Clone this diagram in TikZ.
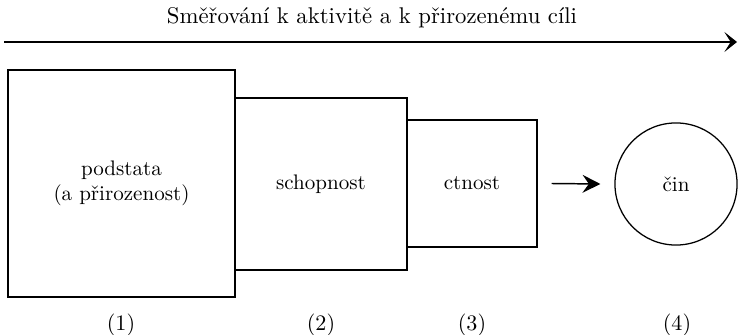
\documentclass[tikz,border=0pt]{standalone}
\usepackage{fontspec}
\usetikzlibrary{arrows.meta}

\begin{document}
\begin{tikzpicture}[
    x=0.475pt, y=-0.475pt,
    stupen/.style={rectangle, draw, line width=0.6pt, align=center, inner sep=0pt},
    cislo/.style={font=\fontsize{10.5}{12}\selectfont},
    sipka/.style={line width=0.7pt, -{Stealth[length=8.5pt, width=8.5pt, inset=3pt]}}
]

% Bounding box (reference proportions)
\useasboundingbox (0,0) rectangle (738,335);

% Direction arrow on top
\node[font=\fontsize{10.8}{13}\selectfont] (nadpis) at (372,18) {Směřování k aktivitě a k přirozenému cíli};
\coordinate (zacatek) at (4,42);
\coordinate (konec) at (737,42);
\draw[line width=0.85pt, -{Stealth[length=6pt, width=9.5pt, inset=3pt]}] (zacatek) -- (konec);

% Stages
\node[stupen, minimum width=107.8pt, minimum height=107.8pt] (podstata) at (121.5,183.5) {podstata\\(a přirozenost)};
\node[stupen, minimum width=81.7pt, minimum height=81.7pt] (schopnost) at (321,184) {schopnost};
\node[stupen, minimum width=61.8pt, minimum height=60.3pt] (ctnost) at (472,183.5) {ctnost};
\node[circle, draw, line width=0.6pt, minimum size=58pt, inner sep=0pt] (cin) at (676,184) {čin};

% Arrow to the act
\draw[sipka] ([xshift=6.6pt]ctnost.east) -- ([xshift=-6.6pt]cin.west);

% Numbers below
\node[cislo] (c1) at (121,325) {(1)};
\node[cislo] (c2) at (321,325) {(2)};
\node[cislo] (c3) at (472,325) {(3)};
\node[cislo] (c4) at (677,325) {(4)};

\end{tikzpicture}
\end{document}
